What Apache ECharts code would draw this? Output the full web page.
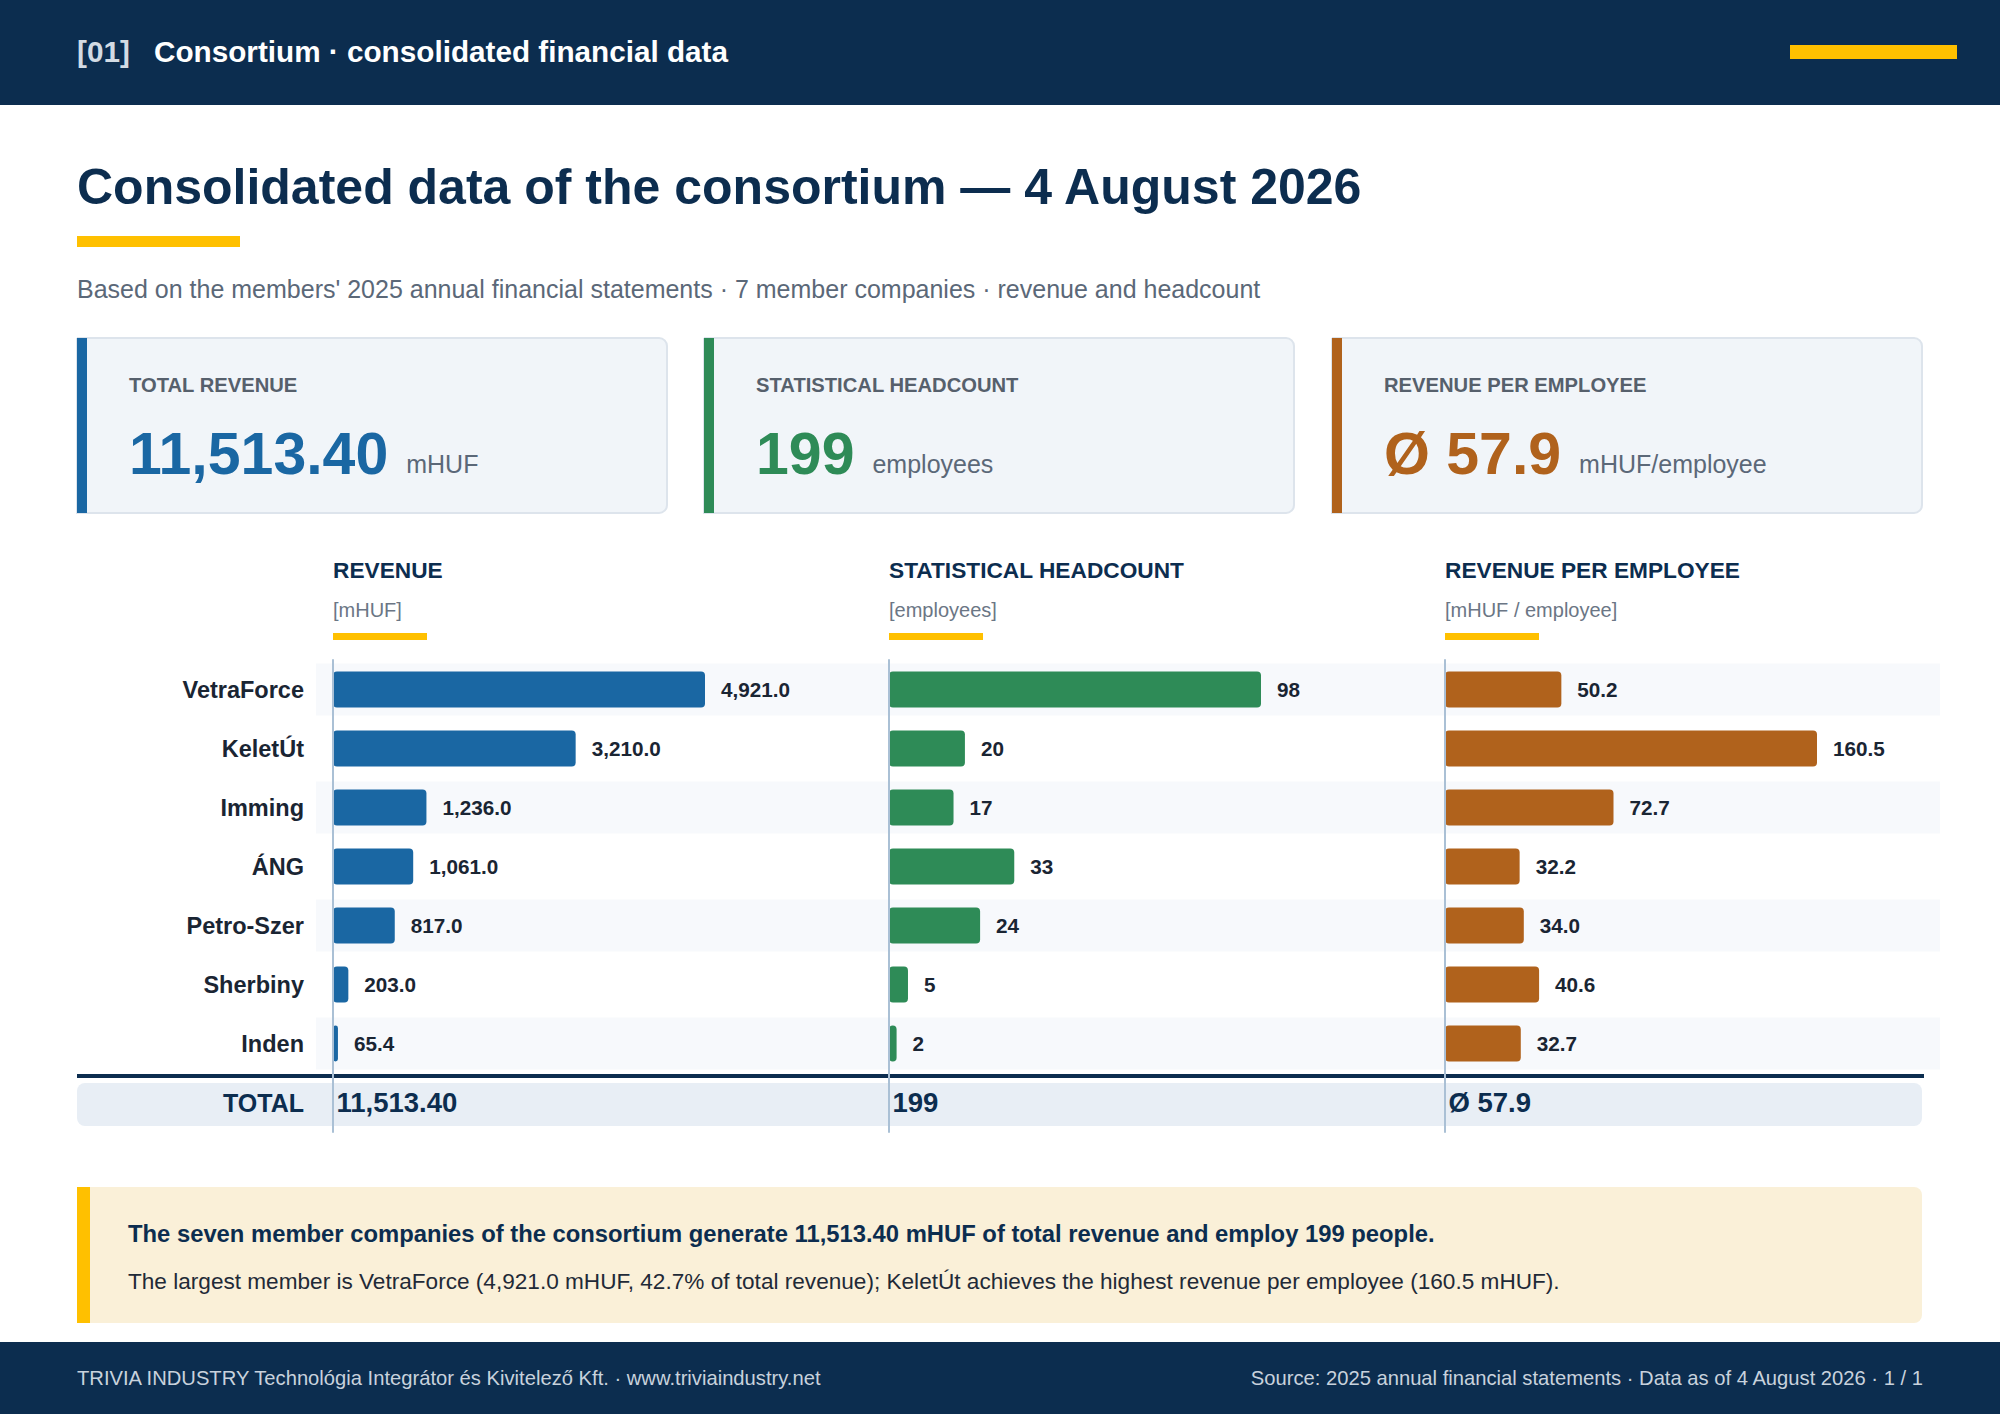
<!DOCTYPE html>
<html>
<head>
<meta charset="utf-8">
<script src="https://cdn.jsdelivr.net/npm/echarts@6/dist/echarts.min.js"></script>
<style>
  html, body { margin: 0; padding: 0; background: #ffffff; }
  #chart { width: 2000px; height: 1414px; }
</style>
</head>
<body>
<div id="chart"></div>
<script>
// ---------------- DATA ----------------
const categories = ['VetraForce', 'KeletÚt', 'Imming', 'ÁNG', 'Petro-Szer', 'Sherbiny', 'Inden'];
const revenue = [4921.0, 3210.0, 1236.0, 1061.0, 817.0, 203.0, 65.4];          // mHUF
const headcount = [98, 20, 17, 33, 24, 5, 2];                                    // employees
const revenuePerEmployee = [50.2, 160.5, 72.7, 32.2, 34.0, 40.6, 32.7];          // mHUF / employee
const totalLabel = 'TOTAL';

const headerText = 'Consortium · consolidated financial data';
const titleText = 'Consolidated data of the consortium — 4 August 2026';
const subtitleText = "Based on the members' 2025 annual financial statements · 7 member companies · revenue and headcount";
const panelTitles = ['REVENUE', 'STATISTICAL HEADCOUNT', 'REVENUE PER EMPLOYEE'];
const panelUnits = ['[mHUF]', '[employees]', '[mHUF / employee]'];
const kpiLabels = ['TOTAL REVENUE', 'STATISTICAL HEADCOUNT', 'REVENUE PER EMPLOYEE'];
const kpiUnits = ['mHUF', 'employees', 'mHUF/employee'];
const noteBold = 'The seven member companies of the consortium generate 11,513.40 mHUF of total revenue and employ 199 people.';
const noteText = 'The largest member is VetraForce (4,921.0 mHUF, 42.7% of total revenue); KeletÚt achieves the highest revenue per employee (160.5 mHUF).';
const footerLeft = 'TRIVIA INDUSTRY Technológia Integrátor és Kivitelező Kft. · www.triviaindustry.net';
const footerRight = 'Source: 2025 annual financial statements · Data as of 4 August 2026 · 1 / 1';

// ---------------- DERIVED ----------------
const fmt = (v, d) => Number(v).toLocaleString('en-US', { minimumFractionDigits: d, maximumFractionDigits: d });
const totalRevenue = revenue.reduce((a, b) => a + b, 0);
const totalHeadcount = headcount.reduce((a, b) => a + b, 0);
const avgPerEmployee = totalRevenue / totalHeadcount;
const totalTexts = [fmt(totalRevenue, 2), fmt(totalHeadcount, 0), 'Ø ' + fmt(avgPerEmployee, 1)];
const kpiValues = [fmt(totalRevenue, 2), fmt(totalHeadcount, 0), 'Ø ' + fmt(avgPerEmployee, 1)];
const rows = categories.concat([totalLabel]);

// ---------------- STYLE ----------------
const FONT = '"Liberation Sans", Arial, Helvetica, sans-serif';
const NAVY = '#0c2d4f';
const YELLOW = '#ffc000';
const GREY = '#5b6878';
const COLORS = ['#1a67a3', '#2e8b57', '#b0621c'];
const PANEL_LEFT = [333, 889, 1445];
const PANEL_W = 480, MAX_BAR = 372;
const GRID_TOP = 660, ROW_H = 59;
const CARD_X = [77, 704, 1332], CARD_W = 590;

const mctx = document.createElement('canvas').getContext('2d');
function textWidth(t, size, weight) {
  mctx.font = (weight || 'normal') + ' ' + size + 'px ' + FONT;
  return mctx.measureText(t).width;
}
function T(x, y, text, size, weight, color, align, z) {
  return {
    type: 'text', x: x, y: y, silent: true, z: z == null ? 10 : z,
    style: {
      text: text, fill: color, fontSize: size, fontWeight: weight, fontFamily: FONT,
      align: align || 'left', verticalAlign: 'middle',
      textAlign: align || 'left', textVerticalAlign: 'middle'
    }
  };
}
function R(x, y, w, h, fill, r, z, stroke, lw) {
  const st = { fill: fill };
  if (stroke) { st.stroke = stroke; st.lineWidth = lw || 1; }
  return { type: 'rect', silent: true, z: z == null ? -5 : z, shape: { x: x, y: y, width: w, height: h, r: r || 0 }, style: st };
}

const graphics = [];
// header
graphics.push(R(0, 0, 2000, 105, NAVY, 0, -5));
graphics.push(T(77, 51, '[01]', 29.7, 'bold', '#d3dbe4'));
graphics.push(T(154, 51, headerText, 29.7, 'bold', '#ffffff'));
graphics.push(R(1790, 45, 167, 14, YELLOW, 0, -4));
// title
graphics.push(T(77, 187, titleText, 50, 'bold', NAVY));
graphics.push(R(77, 236, 163, 11, YELLOW, 0, -4));
graphics.push(T(77, 289, subtitleText, 25, 'normal', GREY));
// KPI cards
for (let i = 0; i < 3; i++) {
  const x = CARD_X[i];
  graphics.push(R(x, 338, CARD_W, 175, '#f1f5f9', [0, 8, 8, 0], -5, '#dde4ec', 2));
  graphics.push(R(x, 338, 10, 175, COLORS[i], 0, -4));
  graphics.push(T(x + 52, 384.5, kpiLabels[i], 20.2, 'bold', '#56606c'));
  graphics.push(T(x + 52, 453.5, kpiValues[i], 59, 'bold', COLORS[i]));
  const w = textWidth(kpiValues[i], 59, 'bold');
  graphics.push(T(x + 52 + w + 18, 464, kpiUnits[i], 25, 'normal', GREY));
}
// panel headings
for (let i = 0; i < 3; i++) {
  graphics.push(T(PANEL_LEFT[i], 570, panelTitles[i], 22.7, 'bold', NAVY));
  graphics.push(T(PANEL_LEFT[i], 610, panelUnits[i], 20, 'normal', '#6b7685'));
  graphics.push(R(PANEL_LEFT[i], 633, 94, 7, YELLOW, 0, -4));
}
// total row band + separator
graphics.push(R(77, 1083, 1845, 43, '#e8eef5', 8, -5));
graphics.push({ type: 'line', silent: true, z: -3, shape: { x1: 77, y1: 1076, x2: 1924, y2: 1076 }, style: { stroke: NAVY, lineWidth: 4 } });
// note box
graphics.push(R(77, 1187, 1845, 136, '#faf0d8', [0, 8, 8, 0], -5));
graphics.push(R(77, 1187, 13, 136, YELLOW, 0, -4));
graphics.push(T(128, 1233, noteBold, 23.8, 'bold', NAVY));
graphics.push(T(128, 1281, noteText, 22.6, 'normal', '#1f2a37'));
// footer
graphics.push(R(0, 1342, 2000, 72, NAVY, 0, -5));
graphics.push(T(77, 1378, footerLeft, 20.2, 'normal', '#c8d2dd'));
graphics.push(T(1923, 1378, footerRight, 20.2, 'normal', '#c8d2dd', 'right'));

// ---------------- GRIDS / AXES / SERIES ----------------
const grids = [{ left: 316, top: GRID_TOP, width: 1624, height: ROW_H * rows.length }];
const xAxes = [{ gridIndex: 0, type: 'value', min: 0, max: 1, show: false }];
const yAxes = [{ gridIndex: 0, type: 'category', data: rows, inverse: true, show: false }];
const series = [{
  type: 'bar', xAxisIndex: 0, yAxisIndex: 0, silent: true, z: -1,
  barWidth: 52, itemStyle: { color: '#f7f9fc' },
  data: categories.map((c, i) => (i % 2 === 0 ? 1 : '-'))
}];

const panelData = [revenue, headcount, revenuePerEmployee];
const panelDec = [1, 0, 1];
for (let p = 0; p < 3; p++) {
  const gi = p + 1;
  grids.push({ left: PANEL_LEFT[p], top: GRID_TOP, width: PANEL_W, height: ROW_H * rows.length });
  xAxes.push({
    gridIndex: gi, type: 'value', min: 0,
    max: function (e) { return e.max * PANEL_W / MAX_BAR; },
    show: false
  });
  yAxes.push({
    gridIndex: gi, type: 'category', data: rows, inverse: true, z: 3,
    axisLine: { show: true, lineStyle: { color: '#aac0d5', width: 2 } },
    axisTick: { show: false },
    splitLine: { show: false },
    axisLabel: p === 0 ? {
      show: true, interval: 0, margin: 29, align: 'right',
      fontFamily: FONT, fontSize: 23.5, fontWeight: 'bold', color: '#1a2533',
      formatter: function (v) { return v === totalLabel ? '{t|' + v + '}' : v; },
      rich: { t: { fontFamily: FONT, fontSize: 25, fontWeight: 'bold', color: NAVY } }
    } : { show: false }
  });
  const dec = panelDec[p];
  series.push({
    type: 'bar', xAxisIndex: gi, yAxisIndex: gi, silent: true,
    barWidth: 36,
    itemStyle: { color: COLORS[p], borderRadius: 4 },
    label: {
      show: true, position: 'right', distance: 16,
      fontFamily: FONT, fontSize: 20.7, fontWeight: 'bold', color: '#1a2533',
      formatter: function (pr) { return fmt(pr.value, dec); }
    },
    data: panelData[p]
  });
  const tt = totalTexts[p];
  series.push({
    type: 'scatter', xAxisIndex: gi, yAxisIndex: gi, silent: true,
    symbolSize: 1, itemStyle: { color: 'rgba(0,0,0,0)', opacity: 1 },
    label: {
      show: true, position: 'right', distance: 3,
      fontFamily: FONT, fontSize: 27.5, fontWeight: 'bold', color: NAVY, opacity: 1,
      formatter: function () { return tt; }
    },
    data: [[0, totalLabel]]
  });
}

const chart = echarts.init(document.getElementById('chart'), null, { renderer: 'svg', width: 2000, height: 1414 });
chart.setOption({
  animation: false,
  backgroundColor: '#ffffff',
  textStyle: { fontFamily: FONT },
  grid: grids,
  xAxis: xAxes,
  yAxis: yAxes,
  series: series,
  graphic: { elements: graphics }
});
</script>
</body>
</html>
